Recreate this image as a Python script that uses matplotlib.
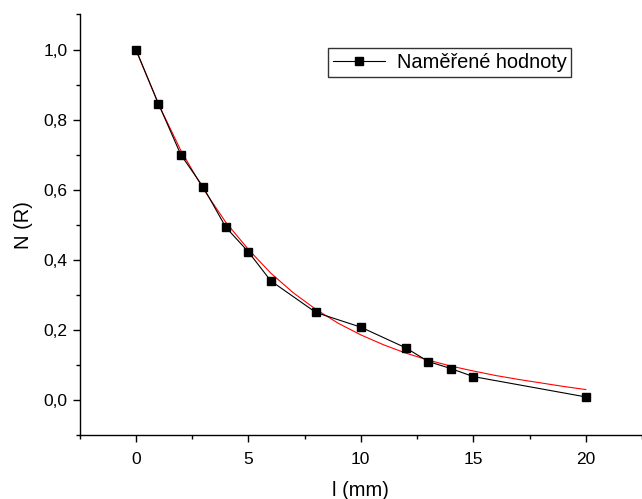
import numpy as np
import matplotlib.pyplot as plt
from matplotlib.ticker import MultipleLocator, FuncFormatter

plt.rcParams['font.family'] = ['Liberation Sans', 'DejaVu Sans']

# namerene hodnoty
l_mm = [0, 1, 2, 3, 4, 5, 6, 8, 10, 12, 13, 14, 15, 20]
N_R = [1.0, 0.846, 0.70, 0.607, 0.493, 0.423, 0.34, 0.25, 0.208, 0.149, 0.11, 0.09, 0.067, 0.009]

# cervena krivka (fit)
fit_x = [0, 1, 2, 3, 4, 5, 6, 7, 8, 9, 10, 11, 12, 13, 14, 15, 16, 17, 18, 19, 20]
fit_y = [1.0, 0.845, 0.712, 0.602, 0.507, 0.43, 0.362, 0.306, 0.259, 0.219, 0.186,
         0.158, 0.134, 0.114, 0.097, 0.083, 0.070, 0.059, 0.049, 0.039, 0.030]

fig = plt.figure(figsize=(6.42, 4.99), dpi=100)
ax = fig.add_axes([0.124, 0.128, 0.876, 0.843])

ax.plot(fit_x, fit_y, color='red', lw=0.8, zorder=2)
ax.plot(l_mm, N_R, color='black', lw=0.8, marker='s', ms=6, mfc='black',
        mec='black', label='Naměřené hodnoty', zorder=3)

ax.set_xlim(-2.5, 22.5)
ax.set_ylim(-0.1, 1.1)

for s in ['top', 'right']:
    ax.spines[s].set_visible(False)
for s in ['left', 'bottom']:
    ax.spines[s].set_linewidth(1.0)

ax.xaxis.set_major_locator(MultipleLocator(5))
ax.xaxis.set_minor_locator(MultipleLocator(2.5))
ax.yaxis.set_major_locator(MultipleLocator(0.2))
ax.yaxis.set_minor_locator(MultipleLocator(0.1))
ax.yaxis.set_major_formatter(FuncFormatter(lambda v, p: ('%.1f' % v).replace('.', ',')))
ax.xaxis.set_major_formatter(FuncFormatter(lambda v, p: '%d' % v))

ax.tick_params(which='major', direction='out', length=5, width=1, labelsize=12.5)
ax.tick_params(which='minor', direction='out', length=3, width=1)
ax.tick_params(axis='x', which='major', pad=7)

ax.set_xlabel('l (mm)', fontsize=14.5, labelpad=10)
ax.set_ylabel('N (R)', fontsize=14.5, labelpad=8)

leg = ax.legend(loc='upper left', bbox_to_anchor=(0.441, 0.921), fontsize=14.4,
                frameon=True, fancybox=False, edgecolor='black', handlelength=2.6,
                borderpad=0.25, handletextpad=0.6, borderaxespad=0)
leg.get_frame().set_linewidth(1.0)

plt.savefig('out.png', dpi=100)
